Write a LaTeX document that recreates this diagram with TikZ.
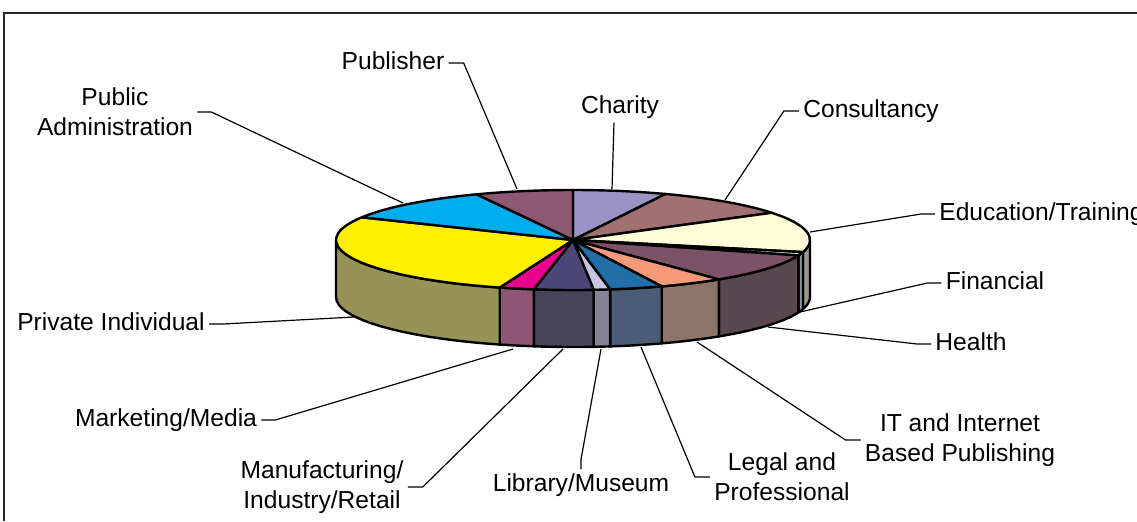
\documentclass[tikz,border=0pt]{standalone}
\usepackage{fontspec}
\setmainfont{Liberation Sans}
\usepackage{xcolor}
\usepackage{tikz}

\definecolor{publisher}{HTML}{8E5872}
\definecolor{charity}{HTML}{9B93C6}
\definecolor{consult}{HTML}{A17171}
\definecolor{educ}{HTML}{FFFCD8}
\definecolor{financ}{HTML}{BFE6F7}
\definecolor{health}{HTML}{7B5266}
\definecolor{itweb}{HTML}{F49A7B}
\definecolor{legal}{HTML}{216EA8}
\definecolor{library}{HTML}{C7C3E2}
\definecolor{manuf}{HTML}{4C4776}
\definecolor{market}{HTML}{E8008C}
\definecolor{private}{HTML}{FFF000}
\definecolor{pubadmin}{HTML}{00AEEF}
\definecolor{educS}{HTML}{9A9A8A}
\definecolor{financS}{HTML}{8798A5}
\definecolor{healthS}{HTML}{5A4850}
\definecolor{itwebS}{HTML}{8E7468}
\definecolor{legalS}{HTML}{4A5C76}
\definecolor{libraryS}{HTML}{858492}
\definecolor{manufS}{HTML}{48445A}
\definecolor{marketS}{HTML}{8F5574}
\definecolor{privateS}{HTML}{979258}

\begin{document}
\begin{tikzpicture}[x=0.5pt,y=-0.5pt,
  lab/.style={font=\fontsize{12.3}{15}\selectfont, inner xsep=2pt, inner ysep=0pt, text height=8.7pt, text depth=2.5pt},
  labtwo/.style={font=\fontsize{12.3}{15}\selectfont, inner xsep=2pt, inner ysep=0pt, align=center},
  leader/.style={line width=0.6pt},
  slice/.style={draw=black, line width=1.2pt, line join=round}]
\useasboundingbox (0,0) rectangle (1137,521);
\clip (0,0) rectangle (1137,521);
\draw[line width=0.8pt, black!85] (4,521) -- (4,13) -- (1137,13);

\coordinate (pc) at (573,240);
% front walls
\foreach \a/\b/\c in {0/14/educS, 14/18/financS, 18/52/healthS, 52/68/itwebS, 68/81/legalS, 81/85/libraryS, 85/99.5/manufS, 99.5/108/marketS, 108/180/privateS}
  \filldraw[slice, fill=\c] ([shift={(\a:237 and 50)}]pc) arc[start angle=\a, end angle=\b, x radius=237, y radius=50]
    -- ++(0,57) arc[start angle=\b, end angle=\a, x radius=237, y radius=50] -- cycle;
% top faces
\foreach \a/\b/\c in {-90/-67/charity, -67/-33/consult, -33/14/educ, 14/18/financ, 18/52/health, 52/68/itweb, 68/81/legal, 81/85/library, 85/99.5/manuf, 99.5/108/market, 108/207/private, 207/246/pubadmin, 246/270/publisher}
  \filldraw[slice, fill=\c] (pc) -- ++(\a:237 and 50) arc[start angle=\a, end angle=\b, x radius=237, y radius=50] -- cycle;

\coordinate (pubE) at (517,189);
\coordinate (padE) at (403,203);
\coordinate (chaE) at (612,189);
\coordinate (conE) at (725,200);
\coordinate (eduE) at (810,232);
\coordinate (finE) at (800,312);
\coordinate (heaE) at (768,327);
\coordinate (itE) at (697,342);
\coordinate (legE) at (641,347);
\coordinate (libE) at (601,349);
\coordinate (manE) at (563,349);
\coordinate (marE) at (513,349);
\coordinate (priE) at (354,317);

\node[lab] (pubL) at (393,63) {Publisher};
\node[labtwo] (padL) at (115,112) {Public\\Administration};
\node[lab] (chaL) at (620,107) {Charity};
\node[lab] (conL) at (871,111) {Consultancy};
\node[lab, anchor=west] (eduL) at (935,214) {Education/Training};
\node[lab] (finL) at (995,283) {Financial};
\node[lab] (heaL) at (971,344) {Health};
\node[labtwo] (itL) at (960,440) {IT and Internet\\Based Publishing};
\node[labtwo] (legL) at (782,477) {Legal and\\Professional};
\node[lab] (libL) at (581,485) {Library/Museum};
\node[labtwo] (manL) at (322,487) {Manufacturing/\\Industry/Retail};
\node[lab] (marL) at (166,420) {Marketing/Media};
\node[lab] (priL) at (111,324) {Private Individual};

\draw[leader] (pubL.east) -- ++(15,0) -- (pubE);
\draw[leader] (padL.east) -- ++(14,0) -- (padE);
\draw[leader] ([xshift=-3pt,yshift=-2pt]chaL.south) -- (chaE);
\draw[leader] (conL.west) -- ++(-15,0) -- (conE);
\draw[leader] (eduL.west) -- ++(-14,0) -- (eduE);
\draw[leader] (finL.west) -- ++(-14,0) -- (finE);
\draw[leader] (heaL.west) -- ++(-14,0) -- (heaE);
\draw[leader] (itL.west) -- ++(-15,0) -- (itE);
\draw[leader] (legL.west) -- ++(-15,0) -- (legE);
\draw[leader] ([yshift=2pt]libL.north) -- ++(0,-10) -- (libE);
\draw[leader] (manL.east) -- ++(15,0) -- (manE);
\draw[leader] (marL.east) -- ++(14,0) -- (marE);
\draw[leader] (priL.east) -- ++(14,0) -- (priE);
\end{tikzpicture}
\end{document}
